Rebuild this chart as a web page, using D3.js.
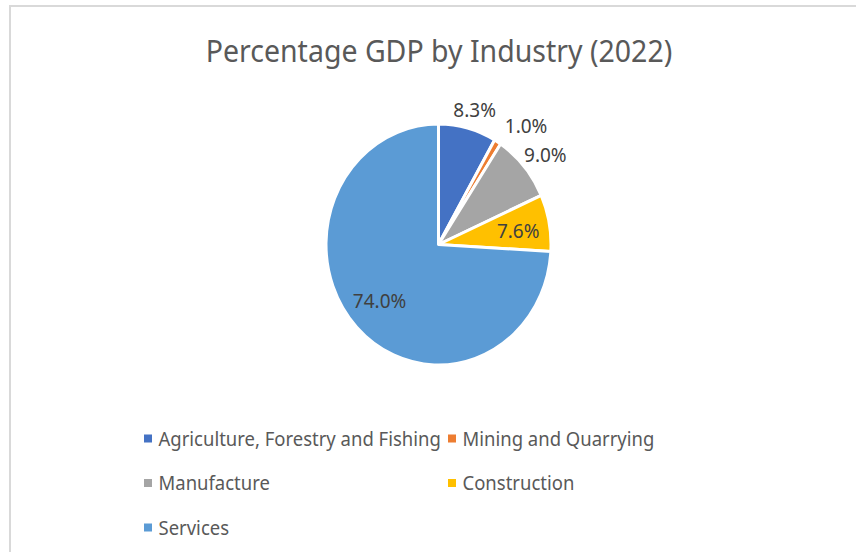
<!DOCTYPE html>
<html>
<head>
<meta charset="utf-8">
<script src="https://cdn.jsdelivr.net/npm/d3@7"></script>
<style>
  html, body { margin: 0; padding: 0; background: #ffffff; }
  svg { display: block; }
  text { font-family: "Noto Sans", "Open Sans", sans-serif; }
</style>
</head>
<body>
<svg id="chart" width="856" height="552"></svg>
<script>
// Share of GDP by industry, 2022
const industries = ["Agriculture, Forestry and Fishing", "Mining and Quarrying", "Manufacture", "Construction", "Services"];
const shares = [8.3, 1.0, 9.0, 7.6, 74.0];
const sliceColors = ["#4472C4", "#ED7D31", "#A5A5A5", "#FFC000", "#5B9BD5"];
const labelPlacement = ["outside", "outside", "outside", "inside", "inside"];
const chartTitle = "Percentage GDP by Industry (2022)";

const svg = d3.select("#chart");
const W = 856, H = 552;
const sy = 1.071; // vertical stretch of the drawing

// chart area frame
svg.append("rect")
  .attr("x", 10).attr("y", 6)
  .attr("width", W + 20).attr("height", H + 20)
  .attr("fill", "#ffffff")
  .attr("stroke", "#d9d9d9")
  .attr("stroke-width", 2);

// text helper: positioned with a matching vertical stretch
function addText(parent, x, y, str, size, color, anchor) {
  return parent.append("text")
    .attr("transform", `translate(${x},${y}) scale(1,${sy})`)
    .attr("text-anchor", anchor)
    .attr("dominant-baseline", "central")
    .attr("font-size", size)
    .attr("fill", color)
    .text(str);
}

// title
addText(svg, 439, 50, chartTitle, 28.5, "#595959", "middle");

// pie
const cx = 438.5, cy = 244.5, r = 112.5;
const data = industries.map((name, i) => ({ name, value: shares[i], color: sliceColors[i], place: labelPlacement[i] }));
const pie = d3.pie().sort(null).value(d => d.value);
const arcs = pie(data);
const arc = d3.arc().innerRadius(0).outerRadius(r);

const pieG = svg.append("g").attr("transform", `translate(${cx},${cy}) scale(1,${sy})`);
pieG.selectAll("path")
  .data(arcs)
  .join("path")
  .attr("d", arc)
  .attr("fill", d => d.data.color)
  .attr("stroke", "#ffffff")
  .attr("stroke-width", 3)
  .attr("stroke-linejoin", "round")
  .attr("vector-effect", "non-scaling-stroke");

// data labels: inside near the slice centroid, outside beyond the rim;
// outside labels that collide are nudged sideways
const labelG = svg.append("g").attr("transform", `translate(${cx},${cy})`);
const fmt = v => v.toFixed(1) + "%";
const placed = [];
arcs.forEach(a => {
  const mid = (a.startAngle + a.endAngle) / 2;
  const R = a.data.place === "inside" ? 0.72 * r : 140;
  const t = addText(labelG, 0, 0, fmt(a.data.value), 19, "#404040", "middle");
  const w = t.node().getComputedTextLength() + 8, h = 21;
  let x = Math.sin(mid) * R;
  const y = -Math.cos(mid) * R;
  if (a.data.place === "outside") {
    const hit = () => placed.some(b => Math.abs(b.x - x) < (b.w + w) / 2 && Math.abs(b.y - y) < (b.h + h) / 2);
    let guard = 0;
    while (hit() && guard++ < 80) x += 1;
  }
  placed.push({ x, y, w, h });
  t.attr("transform", `translate(${x},${y}) scale(1,${sy})`);
});

// legend
const legendRows = [
  { i: 0, col: 0, row: 0 }, { i: 1, col: 1, row: 0 },
  { i: 2, col: 0, row: 1 }, { i: 3, col: 1, row: 1 },
  { i: 4, col: 0, row: 2 }
];
const colX = [144, 448], rowY = [438.5, 483, 527.5];
const legend = svg.append("g");
legendRows.forEach(p => {
  const g = legend.append("g").attr("transform", `translate(${colX[p.col]},${rowY[p.row]})`);
  g.append("rect").attr("x", 0).attr("y", -4).attr("width", 8).attr("height", 8).attr("fill", sliceColors[p.i]);
  addText(g, 14.5, 0, industries[p.i], 18.5, "#595959", "start");
});
</script>
</body>
</html>
